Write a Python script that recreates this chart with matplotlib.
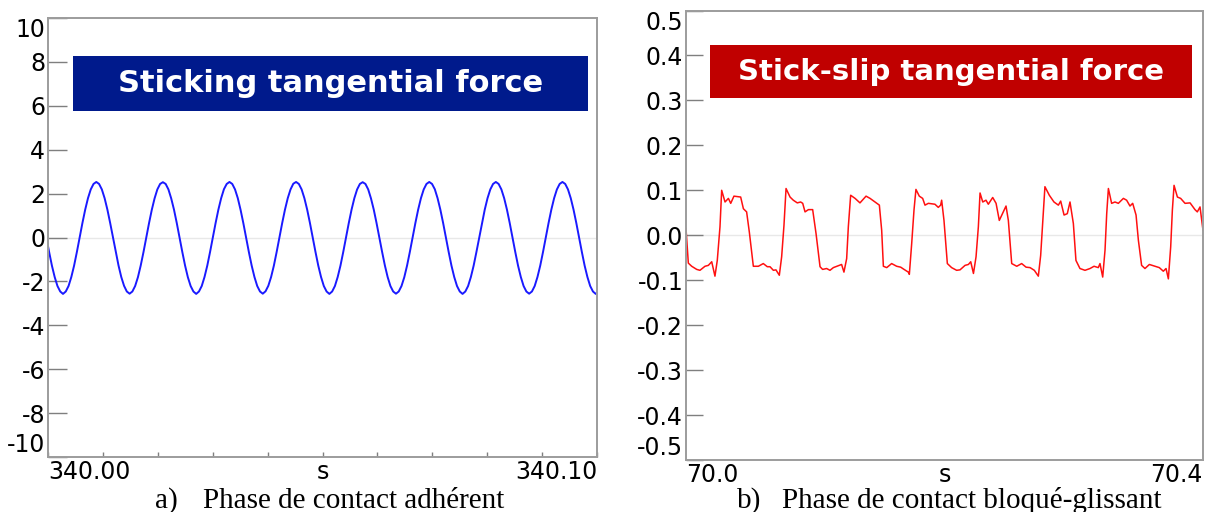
import numpy as np
import matplotlib
matplotlib.use("Agg")
import matplotlib.pyplot as plt
from matplotlib.patches import Rectangle
from matplotlib.ticker import FormatStrFormatter

plt.rcParams["axes.unicode_minus"] = False
plt.rcParams["font.family"] = "DejaVu Sans"

# ---- (a) sticking: tangential force, sampled signal (start time, step in s)
stick_t0 = -0.0003
stick_dt = 0.0005054
stick_force = [
    0.00, -0.66, -1.28, -1.80, -2.21, -2.46, -2.57, -2.46, -2.21, -1.80, -1.28, -0.66,
    0.00, 0.66, 1.27, 1.79, 2.19, 2.44, 2.53, 2.44, 2.19, 1.79, 1.27, 0.66,
    0.01, -0.65, -1.27, -1.80, -2.20, -2.46, -2.56, -2.46, -2.21, -1.81, -1.28, -0.67,
    -0.01, 0.65, 1.26, 1.78, 2.19, 2.44, 2.52, 2.44, 2.19, 1.78, 1.27, 0.66,
    0.00, -0.66, -1.28, -1.81, -2.21, -2.46, -2.57, -2.46, -2.21, -1.80, -1.28, -0.66,
    0.00, 0.66, 1.27, 1.79, 2.20, 2.44, 2.53, 2.44, 2.19, 1.79, 1.26, 0.65,
    -0.01, -0.67, -1.28, -1.80, -2.21, -2.46, -2.56, -2.45, -2.20, -1.80, -1.28, -0.66,
    0.00, 0.66, 1.27, 1.79, 2.19, 2.45, 2.53, 2.44, 2.19, 1.79, 1.27, 0.66,
    0.00, -0.66, -1.28, -1.80, -2.21, -2.46, -2.57, -2.46, -2.21, -1.80, -1.28, -0.66,
    0.01, 0.66, 1.27, 1.79, 2.19, 2.44, 2.52, 2.44, 2.19, 1.78, 1.27, 0.66,
    0.00, -0.65, -1.27, -1.80, -2.21, -2.46, -2.56, -2.46, -2.21, -1.81, -1.28, -0.66,
    0.00, 0.66, 1.27, 1.79, 2.19, 2.44, 2.53, 2.44, 2.20, 1.79, 1.27, 0.66,
    0.00, -0.66, -1.28, -1.80, -2.21, -2.46, -2.57, -2.46, -2.21, -1.80, -1.28, -0.66,
    -0.01, 0.65, 1.27, 1.79, 2.19, 2.44, 2.53, 2.44, 2.19, 1.79, 1.27, 0.66,
    0.00, -0.66, -1.28, -1.80, -2.21, -2.46, -2.56, -2.46, -2.21, -1.80, -1.28, -0.66,
    0.00, 0.66, 1.27, 1.79, 2.19, 2.44, 2.53, 2.44, 2.19, 1.79, 1.27, 0.66,
    0.00, -0.66, -1.28, -1.80, -2.21, -2.46, -2.57, -2.46,
]
stick_start = 340.00
stick_end = 340.10

# ---- (b) stick-slip: time after 70.0 s, force
slip_time = [
    0.0000, 0.0018, 0.0044, 0.0083, 0.0108, 0.0147, 0.0173, 0.0199, 0.0224, 0.0242,
    0.0263, 0.0276, 0.0302, 0.0328, 0.0346, 0.0371, 0.0423, 0.0444, 0.0469, 0.0490,
    0.0521, 0.0560, 0.0598, 0.0629, 0.0650, 0.0676, 0.0696, 0.0722, 0.0740, 0.0758,
    0.0774, 0.0805, 0.0830, 0.0861, 0.0887, 0.0903, 0.0921, 0.0947, 0.0980, 0.1006,
    0.1037, 0.1057, 0.1088, 0.1114, 0.1140, 0.1186, 0.1204, 0.1222, 0.1243, 0.1256,
    0.1274, 0.1308, 0.1346, 0.1393, 0.1424, 0.1462, 0.1496, 0.1514, 0.1527, 0.1553,
    0.1591, 0.1630, 0.1661, 0.1687, 0.1720, 0.1728, 0.1746, 0.1764, 0.1779, 0.1805,
    0.1831, 0.1849, 0.1875, 0.1926, 0.1952, 0.1970, 0.1978, 0.1996, 0.2022, 0.2055,
    0.2094, 0.2120, 0.2159, 0.2185, 0.2203, 0.2224, 0.2244, 0.2262, 0.2275, 0.2296,
    0.2321, 0.2339, 0.2373, 0.2399, 0.2424, 0.2455, 0.2476, 0.2494, 0.2520, 0.2559,
    0.2597, 0.2631, 0.2662, 0.2695, 0.2726, 0.2744, 0.2759, 0.2777, 0.2811, 0.2847,
    0.2881, 0.2899, 0.2925, 0.2950, 0.2971, 0.2997, 0.3017, 0.3048, 0.3087, 0.3126,
    0.3157, 0.3190, 0.3203, 0.3224, 0.3242, 0.3255, 0.3268, 0.3293, 0.3319, 0.3345,
    0.3384, 0.3409, 0.3435, 0.3456, 0.3482, 0.3500, 0.3525, 0.3551, 0.3585, 0.3629,
    0.3662, 0.3693, 0.3714, 0.3732, 0.3750, 0.3763, 0.3776, 0.3802, 0.3827, 0.3861,
    0.3900, 0.3938, 0.3956, 0.3977, 0.4000,
]
slip_force = [
    0.015, -0.062, -0.069, -0.076, -0.078, -0.069, -0.067, -0.059, -0.091, -0.056,
    0.019, 0.100, 0.074, 0.082, 0.071, 0.087, 0.085, 0.059, 0.052, 0.007,
    -0.069, -0.069, -0.063, -0.070, -0.070, -0.078, -0.077, -0.089, -0.048, 0.022,
    0.104, 0.085, 0.078, 0.072, 0.074, 0.071, 0.052, 0.057, 0.057, 0.004,
    -0.070, -0.076, -0.074, -0.078, -0.072, -0.067, -0.065, -0.082, -0.052, 0.019,
    0.089, 0.082, 0.072, 0.087, 0.082, 0.074, 0.067, 0.011, -0.069, -0.072,
    -0.063, -0.069, -0.071, -0.076, -0.082, -0.087, -0.019, 0.056, 0.102, 0.087,
    0.082, 0.067, 0.071, 0.069, 0.062, 0.067, 0.078, 0.033, -0.063, -0.072,
    -0.078, -0.077, -0.067, -0.065, -0.059, -0.085, -0.048, 0.019, 0.094, 0.074,
    0.078, 0.069, 0.084, 0.071, 0.033, 0.052, 0.065, 0.033, -0.063, -0.069,
    -0.063, -0.071, -0.072, -0.078, -0.091, -0.045, 0.026, 0.108, 0.089, 0.074,
    0.067, 0.076, 0.045, 0.048, 0.074, 0.026, -0.056, -0.074, -0.078, -0.074,
    -0.069, -0.072, -0.063, -0.093, -0.033, 0.048, 0.104, 0.071, 0.074, 0.071,
    0.082, 0.078, 0.065, 0.071, 0.045, -0.011, -0.067, -0.074, -0.065, -0.069,
    -0.072, -0.080, -0.074, -0.097, -0.026, 0.056, 0.111, 0.085, 0.082, 0.071,
    0.072, 0.057, 0.052, 0.063, 0.011,
]
slip_start = 70.0
slip_end = 70.4

stick_yticks = [10, 8, 6, 4, 2, 0, -2, -4, -6, -8, -10]
slip_yticks = [0.5, 0.4, 0.3, 0.2, 0.1, 0.0, -0.1, -0.2, -0.3, -0.4, -0.5]

titles = ["Sticking tangential force", "Stick-slip tangential force"]
captions = ["Phase de contact adhérent", "Phase de contact bloqué-glissant"]

W, H = 1205, 512
fig = plt.figure(figsize=(W / 100, H / 100), dpi=100)
ax1 = fig.add_axes([48 / W, 1 - 457 / H, 549 / W, 439 / H])
ax2 = fig.add_axes([686 / W, 1 - 460 / H, 517 / W, 449.5 / H])

spine_col = "#9c9c9c"
tick_col = "#7f7f7f"
tick_fs = 17


def style(ax, ylen):
    for sp in ax.spines.values():
        sp.set_color(spine_col)
        sp.set_linewidth(1.4)
    ax.axhline(0, color="#e8e8e8", lw=1.0, zorder=0)
    ax.tick_params(axis="y", direction="in", length=ylen, width=1.0,
                   color=tick_col, pad=2, labelsize=tick_fs)
    ax.tick_params(axis="x", labelsize=tick_fs, pad=2.5)
    # end labels sit inside the frame
    ylabels = ax.get_yticklabels()
    ylabels[0].set_va("top")
    ylabels[-1].set_va("bottom")
    xlabels = ax.get_xticklabels()
    xlabels[0].set_ha("left")
    xlabels[-1].set_ha("right")


# (a)
stick_time = stick_start + stick_t0 + stick_dt * np.arange(len(stick_force))
ax1.plot(stick_time, stick_force, color="#1a1aff", lw=1.4)
ax1.set_xlim(stick_start, stick_end)
ax1.set_ylim(-10, 10)
ax1.set_yticks(stick_yticks)
ax1.set_yticklabels([str(v) for v in stick_yticks])
xt = np.linspace(stick_start, stick_end, 11)
ax1.set_xticks(xt)
ax1.set_xticklabels(["340.00"] + [""] * 4 + ["s"] + [""] * 4 + ["340.10"])
ax1.tick_params(axis="x", direction="in", length=3.6, width=1.0, color=tick_col)
style(ax1, 13.7)

# (b)
ax2.plot(slip_start + np.array(slip_time), slip_force, color="#ff1010", lw=1.1)
ax2.set_xlim(slip_start, slip_end)
ax2.set_ylim(-0.5, 0.5)
ax2.set_yticks(slip_yticks)
ax2.yaxis.set_major_formatter(FormatStrFormatter("%.1f"))
ax2.set_xticks([slip_start, (slip_start + slip_end) / 2, slip_end])
ax2.set_xticklabels(["70.0", "s", "70.4"])
ax2.tick_params(axis="x", length=0)
style(ax2, 12.2)

# title boxes
boxes = [((73, 56, 588, 111), "#001a8c", 22), ((710, 45, 1192, 98), "#c00000", 21)]
for ((x0, y0, x1, y1), col, fs), txt in zip(boxes, titles):
    fig.patches.append(Rectangle((x0 / W, 1 - y1 / H), (x1 - x0) / W, (y1 - y0) / H,
                                 transform=fig.transFigure, facecolor=col,
                                 edgecolor="none", zorder=5))
    fig.text((x0 + x1) / 2 / W, 1 - (y0 + y1) / 2 / H, txt, color="white",
             fontsize=fs, fontweight="bold", ha="center", va="center", zorder=6)

# captions
serif = "Liberation Serif"
for lab, xl, xc, txt in [("a)", 155, 203, captions[0]), ("b)", 737, 782, captions[1])]:
    fig.text(xl / W, 1 - 508 / H, lab, family=serif, fontsize=21, va="baseline")
    fig.text(xc / W, 1 - 508 / H, txt, family=serif, fontsize=21, va="baseline")

fig.savefig("out.png", dpi=100)
